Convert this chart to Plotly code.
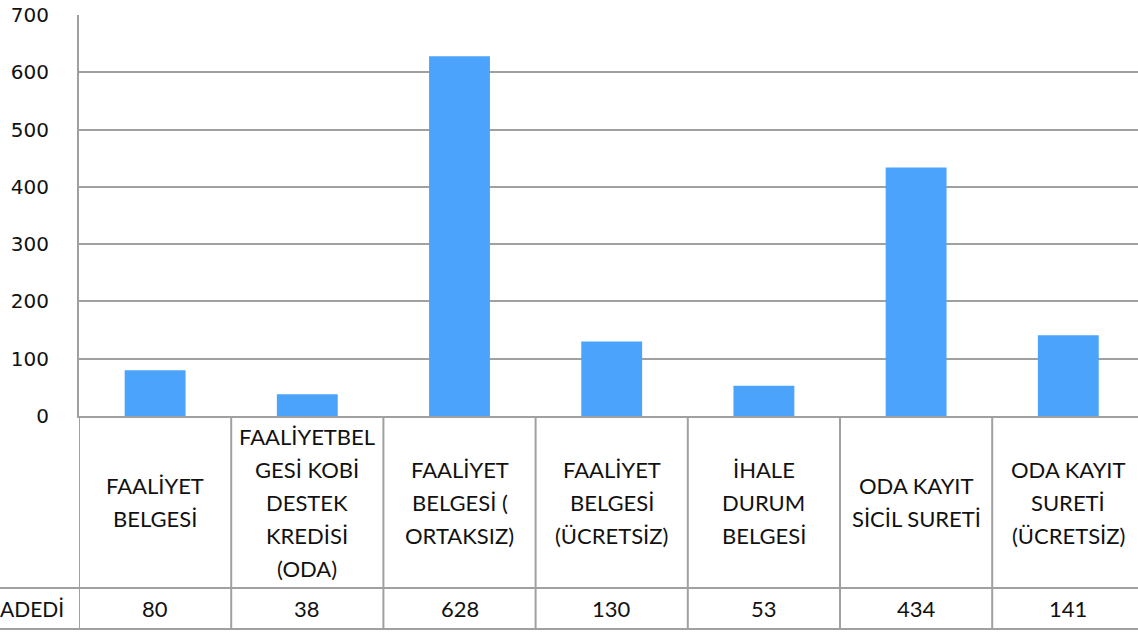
import plotly.graph_objects as go

categories = [
    ["FAALİYET", "BELGESİ"],
    ["FAALİYETBEL", "GESİ KOBİ", "DESTEK", "KREDİSİ", "(ODA)"],
    ["FAALİYET", "BELGESİ (", "ORTAKSIZ)"],
    ["FAALİYET", "BELGESİ", "(ÜCRETSİZ)"],
    ["İHALE", "DURUM", "BELGESİ"],
    ["ODA KAYIT", "SİCİL SURETİ"],
    ["ODA KAYIT", "SURETİ", "(ÜCRETSİZ)"],
]
values = [80, 38, 628, 130, 53, 434, 141]
series_name = "ADEDİ"
y_ticks = [0, 100, 200, 300, 400, 500, 600, 700]

W, H = 1138, 634
ML, MT = 79, 15
PLOT_TOP, PLOT_BOTTOM = 15, 416
MB = H - PLOT_BOTTOM
PH = PLOT_BOTTOM - PLOT_TOP
PW = W - ML

def py(ypx):
    return (PLOT_BOTTOM - ypx) / PH

def pxx(xpx):
    return (xpx - ML) / PW

BAR = "#4BA3FB"
LINE = "#A0A0A0"
TXT = dict(family="Lato, 'Open Sans', sans-serif", size=22, color="#111111")

x = list(range(len(values)))
fig = go.Figure(go.Bar(x=x, y=values, marker=dict(color=BAR, line=dict(width=0)),
                       width=0.4, name=series_name, hoverinfo="y"))

shapes = []
for i in range(len(values)):
    shapes.append(dict(type="line", xref="x", yref="paper", x0=i - 0.5, x1=i - 0.5,
                       y0=py(416), y1=py(629), line=dict(color=LINE, width=2)))
for ypx in (588, 629):
    shapes.append(dict(type="line", xref="paper", yref="paper", x0=pxx(0), x1=1,
                       y0=py(ypx), y1=py(ypx), line=dict(color=LINE, width=2)))

annotations = []
line_h = 33
center = 502
for i, lines in enumerate(categories):
    n = len(lines)
    for k, t in enumerate(lines):
        yc = center + (k - (n - 1) / 2) * line_h
        annotations.append(dict(x=i, y=py(yc), xref="x", yref="paper", text=t,
                                showarrow=False, font=TXT, xanchor="center", yanchor="middle"))
    annotations.append(dict(x=i, y=py(608), xref="x", yref="paper", text=str(values[i]),
                            showarrow=False, font=TXT, xanchor="center", yanchor="middle"))
annotations.append(dict(x=pxx(66), y=py(608), xref="paper", yref="paper", text=series_name,
                        showarrow=False, font=dict(TXT, size=21), xanchor="right", yanchor="middle"))

fig.update_layout(
    width=W, height=H, autosize=False,
    margin=dict(l=ML, r=0, t=MT, b=MB, pad=0),
    plot_bgcolor="white", paper_bgcolor="white",
    showlegend=False, bargap=0.6,
    shapes=shapes, annotations=annotations,
    xaxis=dict(range=[-0.5, -0.5 + PW / 152.2], showticklabels=False, showgrid=False,
               zeroline=False, showline=True, linecolor=LINE, linewidth=2, fixedrange=True),
    yaxis=dict(range=[0, 700], tickvals=y_ticks, showgrid=True, gridcolor=LINE, gridwidth=2,
               zeroline=False, showline=True, linecolor=LINE, linewidth=2,
               tickfont=dict(family="DejaVu Sans", size=20, color="#111111"),
               ticklabelstandoff=24, fixedrange=True),
)

fig.write_html("out.html", config={"displayModeBar": False},
               post_script="document.body.style.margin='0';document.body.style.overflow='hidden';")
